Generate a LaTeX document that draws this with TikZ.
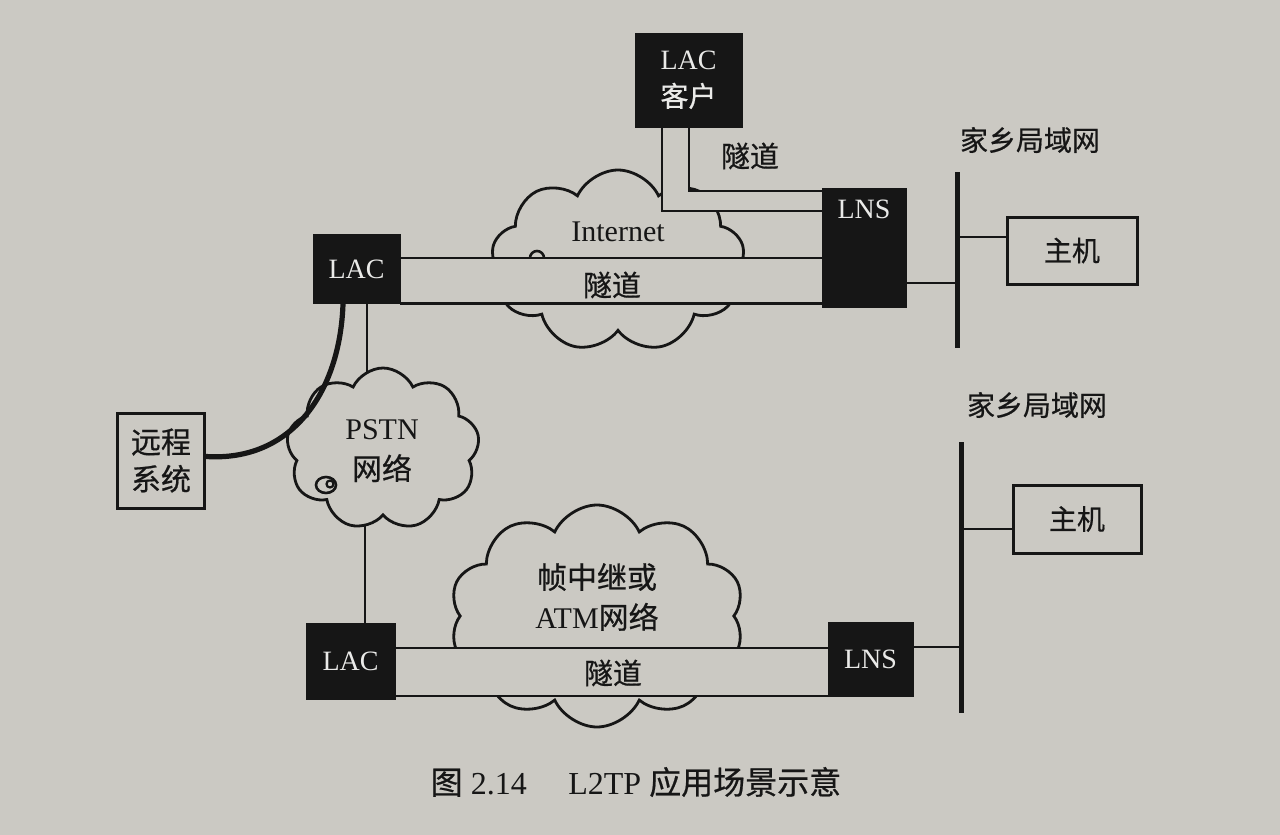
\documentclass[tikz,border=0pt]{standalone}
\usepackage{fontspec}
\setmainfont{Liberation Serif}
\newfontfamily\cjk{Noto Sans CJK SC}[FakeBold=0.6]
\usetikzlibrary{shapes.symbols,calc}
\definecolor{paper}{RGB}{203,201,195}
\definecolor{ink}{RGB}{22,22,22}
\definecolor{wink}{RGB}{234,234,232}
\begin{document}
\begin{tikzpicture}[x=0.5pt,y=-0.5pt,
  blk/.style={fill=ink, draw=ink, inner sep=0pt, text=wink, font=\fontsize{14}{18.5}\selectfont, align=center},
  wbox/.style={draw=ink, line width=1.5pt, fill=paper, inner sep=0pt, text=ink, align=center},
  cld/.style={cloud, cloud puffs=9, cloud puff arc=130, cloud ignores aspect, draw=ink, fill=paper, line width=1.4pt, inner sep=0pt},
  pipe/.style={draw=ink, line width=1.4pt},
  thinln/.style={draw=ink, line width=1pt},
  busln/.style={draw=ink, line width=2.5pt},
  lbl/.style={text=ink, inner sep=0pt, align=center}]
\fill[paper] (0,0) rectangle (1280,835);
\useasboundingbox (0,0) rectangle (1280,835);

% ---- boxes (defined first so connectors can use names) ----
\path node[blk, minimum width=53.5pt, minimum height=47pt] (lacc) at (688.5,80) {};
\path node[blk, minimum width=42pt, minimum height=59.5pt] (lnsA) at (864,247.5) {};
\path node[blk, minimum width=43.5pt, minimum height=34.5pt] (lacA) at (356.5,269) {};
\path node[blk, minimum width=44.5pt, minimum height=38pt] (lacB) at (350.5,661) {};
\path node[blk, minimum width=42.5pt, minimum height=37pt] (lnsB) at (870.5,659) {};

% bus coordinates
\coordinate (busAt) at (957,172);
\coordinate (busAb) at (957,348);
\coordinate (busBt) at (961,442);
\coordinate (busBb) at (961,713);
\coordinate (busAh) at (957,237);
\coordinate (busAl) at (957,283);
\coordinate (busBh) at (961,529);
\coordinate (busBl) at (961,647);

% thin lines into PSTN cloud (under clouds)
\coordinate (pA) at (367,304);
\coordinate (pB) at (365,623);
\coordinate (pc) at (367,449);
\draw[thinln] (pA) -- (pc);
\draw[thinln] (pB) -- (365,449);

% ---- clouds ----
\node[cld, minimum width=126.5pt, minimum height=91pt] (inet) at (618,261) {};
\node[cld, minimum width=96.5pt, minimum height=81pt] (pstn) at (383,449) {};
\node[cld, minimum width=147.5pt, minimum height=111pt, cloud puffs=10] (frc) at (597,616) {};
% small curls
\draw[ink, line width=1.3pt] (537,258) circle (7);
\draw[ink, line width=1.3pt] (326,485) ellipse (10 and 8);
\draw[ink, line width=1.1pt] (330,484) circle (3.5);

% ---- tunnels ----
\fill[paper] (662,127) -- (662,211) -- (822,211) -- (822,191) -- (689,191) -- (689,127) -- cycle;
\draw[pipe] (662,127) -- (662,211) -- (822,211);
\draw[pipe] (689,127) -- (689,191) -- (822,191);
\fill[paper] (400,258) rectangle (822,303.5);
\draw[pipe] (lacA.east |- 0,258) -- (lnsA.west |- 0,258);
\draw[pipe] (lacA.east |- 0,303.5) -- (lnsA.west |- 0,303.5);
\fill[paper] (395,648) rectangle (828,696);
\draw[pipe] (lacB.east |- 0,648) -- (lnsB.west |- 0,648);
\draw[pipe] (lacB.east |- 0,696) -- (lnsB.west |- 0,696);

% redraw black boxes on top
\node[blk, minimum width=53.5pt, minimum height=47pt] (laccT) at (lacc) {LAC\\{\cjk 客户}};
\node[blk, minimum width=42pt, minimum height=59.5pt] (lnsAT) at (lnsA) {};
\node[blk, minimum width=43.5pt, minimum height=34.5pt] (lacAT) at (lacA) {LAC};
\node[blk, minimum width=44.5pt, minimum height=38pt] (lacBT) at (lacB) {LAC};
\node[blk, minimum width=42.5pt, minimum height=37pt] (lnsBT) at (lnsB) {LNS};
\node[lbl, text=wink, font=\fontsize{14}{17}\selectfont] (lnsAtxt) at (864,209) {LNS};

% ---- other boxes ----
\node[wbox, minimum width=43.5pt, minimum height=47.5pt, font=\fontsize{15}{18.5}\selectfont\cjk] (rs) at (161,460.5) {远程\\系统};
\node[wbox, minimum width=65pt, minimum height=33.5pt, font=\fontsize{14}{17}\selectfont\cjk] (hostA) at (1072,250.5) {主机};
\node[wbox, minimum width=64pt, minimum height=34pt, font=\fontsize{14}{17}\selectfont\cjk] (hostB) at (1077,519) {主机};

% ---- LAN buses ----
\draw[busln] (busAt) -- (busAb);
\draw[busln] (busBt) -- (busBb);
\draw[thinln] (lnsA.east |- busAl) -- (busAl);
\draw[thinln] (busAh) -- (hostA.west |- busAh);
\draw[thinln] (lnsB.east |- busBl) -- (busBl);
\draw[thinln] (busBh) -- (hostB.west |- busBh);

% ---- thick dial-up curve ----
\coordinate (cvE) at (343,304);
\draw[ink, line width=2.6pt] ($(rs.east)+(0,-4)$) .. controls (292,462) and (340,392) .. (cvE);

% ---- labels ----
\node[lbl, font=\fontsize{15}{18}\selectfont] (tInet) at (618,232) {Internet};
\node[lbl, font=\fontsize{14.5}{18}\selectfont\cjk] (tTun1) at (750,156) {隧道};
\node[lbl, font=\fontsize{14.5}{18}\selectfont\cjk] (tTun2) at (612,285) {隧道};
\node[lbl, font=\fontsize{14.5}{18}\selectfont\cjk] (tTun3) at (613,673) {隧道};
\node[lbl, font=\fontsize{15}{19}\selectfont] (tPstn) at (382,451) {PSTN\\[1pt]{\cjk 网络}};
\node[lbl, font=\fontsize{15}{20}\selectfont] (tFr) at (597,597) {{\cjk 帧中继或}\\ATM{\cjk 网络}};
\node[lbl, font=\fontsize{14}{17}\selectfont\cjk] (tLanA) at (1030,140) {家乡局域网};
\node[lbl, font=\fontsize{14}{17}\selectfont\cjk] (tLanB) at (1037,405) {家乡局域网};
\node[lbl, font=\fontsize{16}{19}\selectfont] (cap) at (636,782) {{\cjk 图}\ 2.14\hspace{1.3em}L2TP {\cjk 应用场景示意}};
\end{tikzpicture}
\end{document}
